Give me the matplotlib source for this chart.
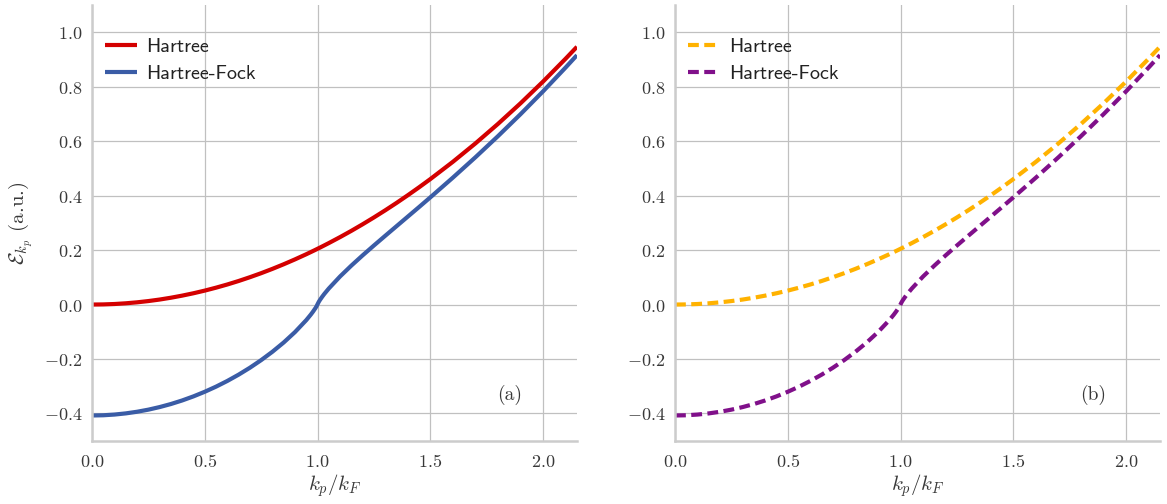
import matplotlib
matplotlib.use("Agg")
import matplotlib.pyplot as plt
from matplotlib.ticker import FuncFormatter

plt.rcParams["mathtext.fontset"] = "cm"
plt.rcParams["axes.formatter.use_mathtext"] = True

# momentum in units of k_F
k_ratio = [0.0, 0.05, 0.1, 0.15, 0.2, 0.25, 0.3, 0.35, 0.4, 0.45, 0.5, 0.55,
           0.6, 0.65, 0.7, 0.75, 0.8, 0.85, 0.9, 0.95, 0.97, 0.98, 0.99, 0.995,
           1.0, 1.005, 1.01, 1.02, 1.03, 1.05, 1.1, 1.15, 1.2, 1.25, 1.3, 1.35,
           1.4, 1.45, 1.5, 1.6, 1.7, 1.8, 1.9, 2.0, 2.1, 2.15]

# single-particle energies (a.u.)
hartree = [0.0, 0.0005, 0.0020, 0.0046, 0.0082, 0.0128, 0.0184, 0.0251,
           0.0328, 0.0415, 0.0512, 0.0620, 0.0737, 0.0865, 0.1004, 0.1152,
           0.1311, 0.1480, 0.1659, 0.1848, 0.1927, 0.1967, 0.2007, 0.2028,
           0.2048, 0.2069, 0.2089, 0.2131, 0.2173, 0.2258, 0.2478, 0.2708,
           0.2949, 0.3200, 0.3461, 0.3732, 0.4014, 0.4306, 0.4608, 0.5243,
           0.5919, 0.6636, 0.7393, 0.8192, 0.9032, 0.9467]

hartree_fock = [-0.4074, -0.4066, -0.4040, -0.3997, -0.3937, -0.3860, -0.3765,
                -0.3653, -0.3522, -0.3372, -0.3203, -0.3015, -0.2806, -0.2575,
                -0.2321, -0.2041, -0.1733, -0.1393, -0.1011, -0.0572, -0.0370,
                -0.0259, -0.0138, -0.0071, 0.0011, 0.0092, 0.0160, 0.0280,
                0.0390, 0.0590, 0.1033, 0.1432, 0.1808, 0.2170, 0.2525, 0.2877,
                0.3229, 0.3581, 0.3937, 0.4662, 0.5410, 0.6186, 0.6993, 0.7833,
                0.8708, 0.9159]

series_labels = ["Hartree", "Hartree-Fock"]
panel_tags = ["(a)", "(b)"]
x_ticks = [0.0, 0.5, 1.0, 1.5, 2.0]
y_ticks = [-0.4, -0.2, 0.0, 0.2, 0.4, 0.6, 0.8, 1.0]

fig = plt.figure(figsize=(11.67, 5.04), dpi=100)
ax_a = fig.add_axes([0.0788, 0.1256, 0.4156, 0.8644])
ax_b = fig.add_axes([0.5784, 0.1256, 0.4156, 0.8644])

styles = [
    (ax_a, ["#d40000", "#3a5ca6"], "-"),
    (ax_b, ["#ffb200", "#80108a"], "--"),
]

tick_fmt = FuncFormatter(lambda v, p: r"$%.1f$" % v)

for (ax, colors, ls), tag in zip(styles, panel_tags):
    for vals, col, lab in zip([hartree, hartree_fock], colors, series_labels):
        line, = ax.plot(k_ratio, vals, color=col, lw=3, ls=ls, label=lab,
                        solid_capstyle="butt", dash_capstyle="butt")
        if ls == "--":
            line.set_dashes((2.6, 1.3))
    ax.set_xlim(0, 2.15)
    ax.set_ylim(-0.5, 1.1)
    ax.set_xticks(x_ticks)
    ax.set_yticks(y_ticks)
    ax.xaxis.set_major_formatter(tick_fmt)
    ax.yaxis.set_major_formatter(tick_fmt)
    ax.tick_params(axis="both", length=0, labelsize=13, labelcolor="#383838")
    ax.tick_params(axis="x", pad=9)
    ax.tick_params(axis="y", pad=7)
    ax.grid(True, color="#c0c0c0", lw=0.9)
    ax.set_axisbelow(True)
    for side in ["top", "right"]:
        ax.spines[side].set_visible(False)
    for side in ["left", "bottom"]:
        ax.spines[side].set_color("#cccccc")
        ax.spines[side].set_linewidth(1.8)
    ax.set_xlabel(r"$k_p/k_F$", fontsize=15, color="#383838", labelpad=1)
    ax.text(0.862, 0.105, tag, transform=ax.transAxes, family="cmr10",
            fontsize=14, color="#383838", ha="center", va="center")
    leg = ax.legend(loc="upper left", bbox_to_anchor=(0.01, 0.942),
                    borderaxespad=0.0, frameon=False,
                    handlelength=1.6, handletextpad=0.45, labelspacing=0.4,
                    prop={"family": ["cmss10", "DejaVu Sans"], "size": 14.5})
    for t in leg.get_texts():
        t.set_color("#222222")

ylab = ax_a.set_ylabel(r"$\mathcal{E}_{k_p}$ (a.u.)", fontsize=15,
                       color="#383838", labelpad=6)
ylab.set_family(["cmr10", "DejaVu Sans"])

fig.savefig("out.png", dpi=100)
